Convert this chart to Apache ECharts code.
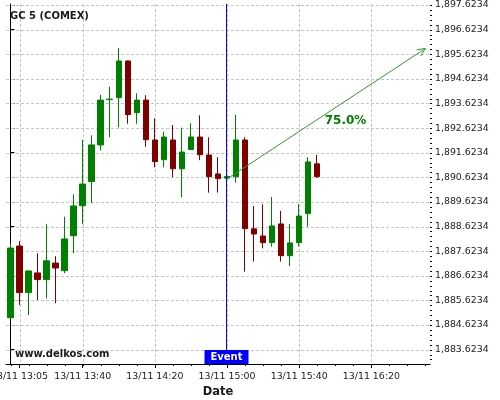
<!DOCTYPE html>
<html><head><meta charset="utf-8">
<script src="https://cdn.jsdelivr.net/npm/echarts@6/dist/echarts.min.js"></script>
<style>html,body{margin:0;padding:0;background:#fff}#c{width:500px;height:400px}</style>
</head><body><div id="c"></div>
<script>
// ---- data ----
const times = ['13:00','13:05','13:10','13:15','13:20','13:25','13:30','13:35','13:40','13:45',
  '13:50','13:55','14:00','14:05','14:10','14:15','14:20','14:25','14:30','14:35',
  '14:40','14:45','14:50','14:55','15:00','15:05','15:10','15:15','15:20','15:25',
  '15:30','15:35','15:40','15:45','15:50'];
const opens  = [1884.92,1887.83,1885.94,1886.74,1886.47,1887.14,1886.83,1888.25,1889.47,1890.45,
  1891.94,1893.78,1893.86,1895.35,1893.25,1893.76,1892.14,1891.34,1892.14,1890.97,
  1891.75,1892.26,1891.53,1890.76,1890.59,1890.65,1892.14,1888.53,1888.24,1887.97,
  1888.73,1887.44,1887.97,1889.15,1891.17];
const closes = [1887.75,1885.94,1886.82,1886.47,1887.23,1886.94,1888.12,1889.46,1890.35,1891.94,
  1893.76,1893.80,1895.35,1893.17,1893.76,1892.15,1891.26,1892.26,1890.97,1891.65,
  1892.26,1891.54,1890.65,1890.57,1890.66,1892.14,1888.54,1888.32,1887.97,1888.65,
  1887.44,1887.96,1889.05,1891.25,1890.65];
const lows   = [1884.88,1885.44,1885.03,1885.64,1885.71,1885.51,1886.73,1887.54,1888.72,1889.58,
  1891.71,1892.25,1892.66,1892.80,1892.80,1891.86,1891.03,1891.03,1890.63,1889.81,
  1891.74,1891.32,1890.00,1890.00,1890.59,1890.41,1886.79,1887.20,1887.74,1887.81,
  1887.20,1887.02,1887.81,1888.62,1890.60];
const highs  = [1887.94,1888.03,1886.85,1887.54,1888.72,1887.42,1889.02,1889.93,1892.14,1892.33,
  1893.97,1894.31,1895.88,1895.37,1894.04,1893.96,1893.02,1892.47,1892.75,1892.64,
  1892.82,1893.14,1892.25,1891.44,1890.66,1893.16,1892.25,1889.46,1889.53,1889.82,
  1889.26,1888.73,1889.53,1891.44,1891.53];
const xTickLabels = ['13:05','13:40','14:20','15:00','15:40','16:20'];
const yTickValues = [1883.6234,1884.6234,1885.6234,1886.6234,1887.6234,1888.6234,1889.6234,
  1890.6234,1891.6234,1892.6234,1893.6234,1894.6234,1895.6234,1896.6234,1897.6234];
const eventTime = '15:00';
const arrowFrom = ['15:00', 1890.56];
const arrowTo = ['16:50', 1895.86];
const probLabel = '75.0%';
const probLabelAt = [185.7, 1892.93]; // minutes after 13:00, price
const titleText = 'GC 5 (COMEX)';
const siteText = 'www.delkos.com';

// ---- helpers ----
const toMin = t => { const p = t.split(':').map(Number); return (p[0] - 13) * 60 + p[1]; };
const fmtTime = v => { const m = Math.round(v) + 13 * 60; const h = Math.floor(m / 60), mm = m % 60;
  return '13/11 ' + h + ':' + (mm < 10 ? '0' : '') + mm; };
const fmtPrice = v => { const s = Number(v).toFixed(4).split('.');
  return s[0].replace(/\B(?=(\d{3})+(?!\d))/g, ',') + '.' + s[1]; };

const xMin = -2.5, xMax = 232.5, yMin = 1883.04, yMax = 1897.664;
const FONT = 'DejaVu Sans';
const xMinor = []; for (let m = 0; m <= 230; m += 10) xMinor.push(m);
const yMinor = []; for (let v = yTickValues[0] - 0.4; v < yMax; v += 0.2) yMinor.push(+v.toFixed(4));

const candleData = times.map((t, i) => [toMin(t), opens[i], closes[i], lows[i], highs[i]]);
const GRID_COLOR = '#c4c4c4';
const px = v => Math.round(v) + 0.5;

const chart = echarts.init(document.getElementById('c'), null, {renderer: 'canvas'});
chart.setOption({
  animation: false,
  backgroundColor: '#ffffff',
  title: { text: titleText, left: 10, top: 11, padding: 0,
    textStyle: { fontFamily: FONT, fontSize: 10, fontWeight: 'bold', color: '#1a1a1a' } },
  graphic: [{ type: 'text', left: 15, top: 349, z: 100,
    style: { text: siteText, font: 'bold 10px "DejaVu Sans"', fill: '#1a1a1a' } }],
  grid: { left: 6, right: 70, top: 4, bottom: 36, outerBoundsMode: 'none', containLabel: false },
  xAxis: {
    type: 'value', min: xMin, max: xMax,
    name: 'Date', nameLocation: 'middle', nameGap: 20,
    nameTextStyle: { fontFamily: FONT, fontSize: 11.5, fontWeight: 'bold', color: '#1a1a1a' },
    axisLine: { show: true, lineStyle: { color: '#000', width: 1 } },
    axisTick: { show: true, length: 4, customValues: xTickLabels.map(toMin), lineStyle: { color: '#000' } },
    axisLabel: { customValues: xTickLabels.map(toMin), formatter: fmtTime, margin: 8,
      fontFamily: FONT, fontSize: 9.4, color: '#1a1a1a', showMinLabel: true, showMaxLabel: true },
    splitLine: { show: false }
  },
  yAxis: {
    type: 'value', position: 'right', min: yMin, max: yMax, scale: true,
    axisLine: { show: true, lineStyle: { color: '#000', width: 1 } },
    axisTick: { show: true, length: 4, customValues: yTickValues, lineStyle: { color: '#000' } },
    axisLabel: { customValues: yTickValues, formatter: fmtPrice, margin: 5,
      fontFamily: FONT, fontSize: 9.4, color: '#1a1a1a' },
    splitLine: { show: false }
  },
  series: [{
    // dashed grid lines and minor ticks, placed through the axis scales
    type: 'custom', z: 1, silent: true, data: [[xMin, yMin]],
    renderItem: function (params, api) {
      const bl = api.coord([xMin, yMin]), tr = api.coord([xMax, yMax]);
      const ch = [];
      xTickLabels.forEach(t => { const x = px(api.coord([toMin(t), yMin])[0]);
        ch.push({ type: 'line', shape: { x1: x, y1: tr[1], x2: x, y2: bl[1] },
          style: { stroke: GRID_COLOR, lineWidth: 1, lineDash: [3, 2] } }); });
      yTickValues.forEach(v => { const y = px(api.coord([xMin, v])[1]);
        ch.push({ type: 'line', shape: { x1: bl[0], y1: y, x2: tr[0], y2: y },
          style: { stroke: GRID_COLOR, lineWidth: 1, lineDash: [3, 2] } }); });
      xMinor.forEach(m => { const x = px(api.coord([m, yMin])[0]);
        ch.push({ type: 'line', shape: { x1: x, y1: bl[1], x2: x, y2: bl[1] + 2 }, style: { stroke: '#000', lineWidth: 1 } }); });
      yMinor.forEach(v => { if (v <= yMin || v >= yMax) return; const y = px(api.coord([xMax, v])[1]);
        ch.push({ type: 'line', shape: { x1: tr[0], y1: y, x2: tr[0] + 2, y2: y }, style: { stroke: '#000', lineWidth: 1 } }); });
      return { type: 'group', children: ch };
    }
  }, {
    type: 'candlestick',
    data: candleData, encode: { x: 0, y: [1, 2, 3, 4] },
    barWidth: 6,
    itemStyle: { color: '#008000', color0: '#800000', borderColor: '#008000', borderColor0: '#800000', borderWidth: 1 },
    z: 2
  }, {
    type: 'custom', z: 5, silent: true,
    data: [[toMin(eventTime), yMin]],
    renderItem: function (params, api) {
      const evB = api.coord([toMin(eventTime), yMin]);
      const evT = api.coord([toMin(eventTime), yMax]);
      const ex = Math.round(evB[0]) - 0.5;
      const a0 = api.coord([toMin(arrowFrom[0]), arrowFrom[1]]);
      const a1 = api.coord([toMin(arrowTo[0]), arrowTo[1]]);
      const ang = Math.atan2(a1[1] - a0[1], a1[0] - a0[0]);
      const L = 9, w = 0.42;
      const h1 = [a1[0] - L * Math.cos(ang - w), a1[1] - L * Math.sin(ang - w)];
      const h2 = [a1[0] - L * Math.cos(ang + w), a1[1] - L * Math.sin(ang + w)];
      const tp = api.coord(probLabelAt);
      return { type: 'group', children: [
        { type: 'line', shape: { x1: ex, y1: evT[1], x2: ex, y2: evB[1] }, style: { stroke: '#0000ff', lineWidth: 1 } },
        { type: 'rect', shape: { x: ex - 22, y: evB[1] - 14, width: 44, height: 14 }, style: { fill: '#0000ff' } },
        { type: 'text', style: { text: 'Event', x: ex, y: evB[1] - 6.5, align: 'center', verticalAlign: 'middle',
          fill: '#ffffff', font: 'bold 10px "DejaVu Sans"' } },
        { type: 'line', shape: { x1: a0[0], y1: a0[1], x2: a1[0], y2: a1[1] }, style: { stroke: '#2e9a2e', lineWidth: 1 } },
        { type: 'polyline', shape: { points: [h1, a1, h2] }, style: { stroke: '#2e9a2e', fill: null, lineWidth: 1 } },
        { type: 'text', style: { text: probLabel, x: tp[0], y: tp[1], align: 'center', verticalAlign: 'middle',
          fill: '#008000', font: 'bold 12px "DejaVu Sans"' } }
      ] };
    }
  }]
});
</script></body></html>
